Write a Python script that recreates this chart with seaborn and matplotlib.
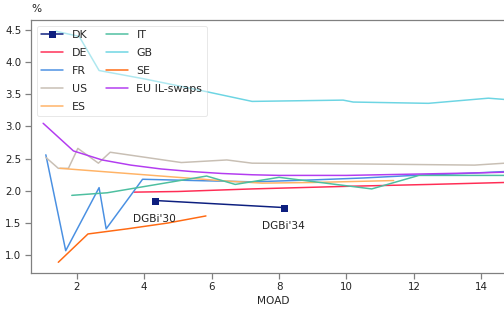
import matplotlib
matplotlib.use("Agg")
import matplotlib.pyplot as plt
import seaborn as sns

# ---------------------------------------------------------------- data
dk_x = [4.32, 8.16]
dk_y = [1.85, 1.74]
dk_names = ["DGBi'30", "DGBi'34"]

de_x = [3.7, 5.0, 7.2, 10.0, 12.5, 14.7]
de_y = [1.98, 1.99, 2.03, 2.07, 2.10, 2.13]

fr_x = [1.08, 1.67, 2.66, 2.87, 3.95, 5.5, 7.2, 9.0, 10.5, 12.0, 13.5, 14.7]
fr_y = [2.56, 1.07, 2.05, 1.41, 2.18, 2.16, 2.14, 2.17, 2.20, 2.24, 2.27, 2.30]

us_x = [1.08, 1.45, 1.75, 2.03, 2.64, 2.99, 5.1, 6.45, 7.2, 10.0, 13.8, 14.7]
us_y = [2.52, 2.35, 2.35, 2.66, 2.43, 2.60, 2.44, 2.48, 2.43, 2.42, 2.40, 2.43]

es_x = [1.5, 4.0, 6.5, 7.5, 9.0, 11.4]
es_y = [2.35, 2.25, 2.15, 2.12, 2.13, 2.16]

it_x = [1.85, 2.9, 5.85, 6.7, 8.0, 10.75, 12.15, 14.7]
it_y = [1.93, 1.97, 2.23, 2.10, 2.21, 2.03, 2.24, 2.24]

gb_x = [1.38, 2.07, 2.66, 4.0, 5.5, 7.2, 9.9, 10.2, 12.43, 14.21, 14.7]
gb_y = [4.48, 4.40, 3.87, 3.74, 3.58, 3.39, 3.41, 3.38, 3.36, 3.44, 3.42]

se_x = [1.45, 2.33, 3.5, 4.7, 5.83]
se_y = [0.89, 1.33, 1.41, 1.50, 1.61]

eu_x = [1.0, 1.9, 2.75, 3.6, 4.5, 5.4, 6.3, 7.2, 8.0, 9.0, 10.0, 11.0, 12.0, 13.0, 14.0, 14.7]
eu_y = [3.05, 2.62, 2.48, 2.40, 2.34, 2.30, 2.27, 2.25, 2.24, 2.24, 2.24, 2.25, 2.26, 2.27, 2.28, 2.29]

# ---------------------------------------------------------------- plot
sns.set_theme(style="ticks", rc={
    "axes.edgecolor": "#808080",
    "xtick.color": "#808080",
    "ytick.color": "#808080",
    "xtick.labelcolor": "#222222",
    "ytick.labelcolor": "#222222",
    "font.size": 10.5,
    "xtick.labelsize": 10.3,
    "ytick.labelsize": 10.3,
    "axes.labelsize": 10.5,
    "legend.fontsize": 11,
    "lines.linewidth": 1.5,
})
plt.rcParams["font.family"] = ["DejaVu Sans"]

fig = plt.figure(figsize=(7, 312 / 72), dpi=72)
ax = fig.add_axes([31 / 504, 1 - 272.7 / 312, 484 / 504, 252.7 / 312])

series = [
    ("DE", de_x, de_y, "#ff2d55"),
    ("FR", fr_x, fr_y, "#4a90e2"),
    ("US", us_x, us_y, "#c8bfb4"),
    ("ES", es_x, es_y, "#ffb366"),
    ("IT", it_x, it_y, "#4dbfa0"),
    ("GB", gb_x, gb_y, "#6dd5e3"),
    ("SE", se_x, se_y, "#ff6a13"),
    ("EU IL-swaps", eu_x, eu_y, "#b33cf0"),
]

sns.lineplot(x=dk_x, y=dk_y, ax=ax, color="#0d1f7f", marker="s", markersize=7,
             markeredgewidth=0, label="DK", sort=False, estimator=None)
for name, xs, ys, col in series:
    sns.lineplot(x=xs, y=ys, ax=ax, color=col, label=name, sort=False, estimator=None)

for xv, yv, nm in zip(dk_x, dk_y, dk_names):
    ax.annotate(nm, (xv, yv), xytext=(-22, -18), textcoords="offset points",
                ha="left", va="center", fontsize=10.5, color="#222222")

ax.set_xlim(0.64, 15.0)
ax.set_ylim(0.728, 4.655)
ax.set_xticks([2, 4, 6, 8, 10, 12, 14])
ax.set_yticks([1.0, 1.5, 2.0, 2.5, 3.0, 3.5, 4.0, 4.5])
ax.set_xlabel("MOAD", labelpad=4)
ax.set_ylabel("")
ax.text(0.0, 1.042, "%", transform=ax.transAxes, ha="left", va="center", fontsize=10.5)

leg = ax.legend(loc="upper left", ncol=2, frameon=True, framealpha=0.45,
                labelspacing=0.72, columnspacing=1.65)

fig.savefig("out.png", dpi=72)
